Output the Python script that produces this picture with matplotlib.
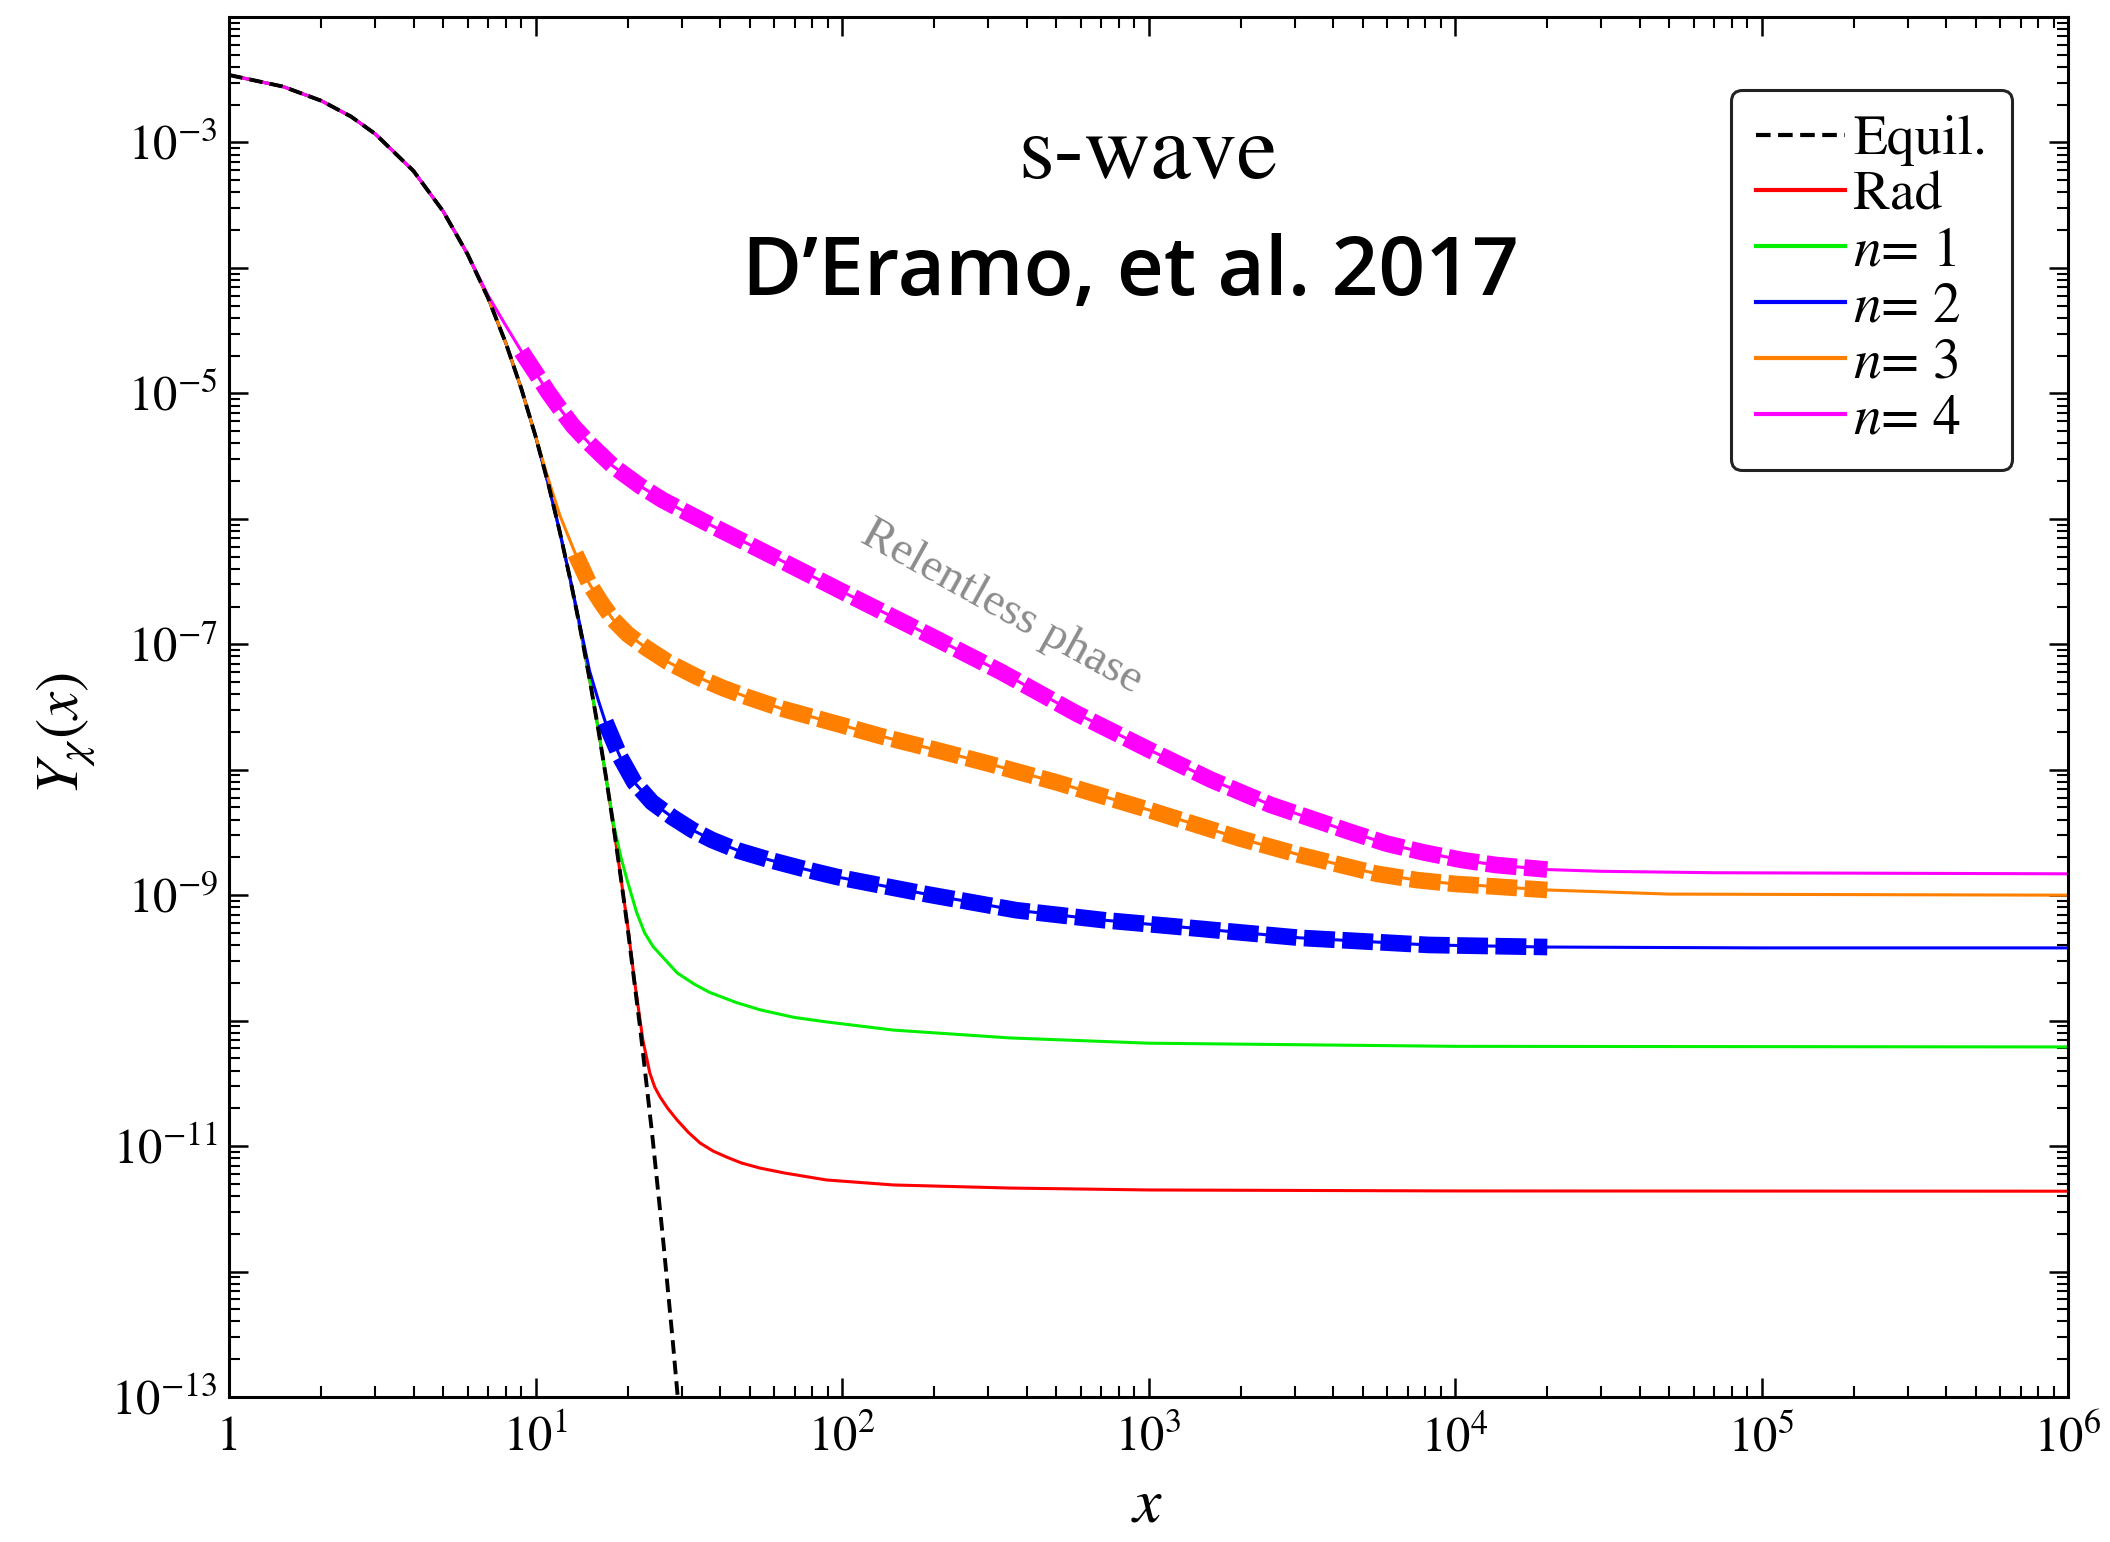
import numpy as np
import matplotlib.pyplot as plt
from matplotlib.ticker import FixedLocator, LogLocator, FuncFormatter, NullFormatter

plt.rcParams['mathtext.fontset'] = 'stix'
plt.rcParams['font.family'] = 'STIXGeneral'

# equilibrium yield
x_eq = [1, 1.5, 2, 2.5, 3, 4, 5, 6, 7, 8, 9, 10, 11, 12, 13, 14, 15, 16, 17, 18, 19, 20,
        22, 24, 26, 28, 30]
y_eq = [3.45e-3, 2.79e-3, 2.15e-3, 1.61e-3, 1.17e-3, 5.92e-4, 2.82e-4, 1.29e-4, 5.77e-5,
        2.52e-5, 1.08e-5, 4.57e-6, 1.91e-6, 7.89e-7, 3.24e-7, 1.32e-7, 5.33e-8, 2.15e-8,
        8.59e-9, 3.43e-9, 1.36e-9, 5.37e-10, 8.32e-11, 1.27e-11, 1.94e-12, 2.91e-13, 4.36e-14]

# radiation domination
x_rad = [1, 1.5, 2, 2.5, 3, 4, 5, 6, 7, 8, 9, 10, 11, 12, 13, 14, 15, 16, 17, 18, 19, 20,
         21, 22.4, 23.6, 24.5, 25.5, 27, 29, 31.5, 34.4, 38, 42, 47, 54, 65, 89, 147, 353,
         1e3, 1e4, 1e6]
y_rad = [3.45e-3, 2.79e-3, 2.15e-3, 1.61e-3, 1.17e-3, 5.92e-4, 2.82e-4, 1.29e-4, 5.77e-5,
         2.52e-5, 1.08e-5, 4.57e-6, 1.91e-6, 7.89e-7, 3.24e-7, 1.32e-7, 5.33e-8, 2.15e-8,
         8.59e-9, 3.43e-9, 1.36e-9, 5.62e-10, 2.14e-10, 7.02e-11, 3.83e-11, 2.95e-11,
         2.46e-11, 2.00e-11, 1.61e-11, 1.29e-11, 1.06e-11, 9.12e-12, 8.18e-12, 7.33e-12,
         6.68e-12, 6.10e-12, 5.37e-12, 4.90e-12, 4.63e-12, 4.47e-12, 4.39e-12, 4.37e-12]

# n = 1
x_n1 = [1, 1.5, 2, 2.5, 3, 4, 5, 6, 7, 8, 9, 10, 11, 12, 13, 14, 15, 16, 17, 18, 19,
        19.9, 21.4, 22.7, 24.2, 26.5, 29, 33, 37, 45, 54, 70, 89, 147, 353, 1e3, 1e4, 1e6]
y_n1 = [3.45e-3, 2.79e-3, 2.15e-3, 1.61e-3, 1.17e-3, 5.92e-4, 2.82e-4, 1.29e-4, 5.77e-5,
        2.52e-5, 1.08e-5, 4.57e-6, 1.91e-6, 7.89e-7, 3.24e-7, 1.32e-7, 5.33e-8, 2.15e-8,
        8.59e-9, 3.63e-9, 2.00e-9, 1.32e-9, 7.24e-10, 5.01e-10, 3.89e-10, 3.05e-10,
        2.40e-10, 1.95e-10, 1.68e-10, 1.40e-10, 1.22e-10, 1.06e-10, 9.77e-11, 8.41e-11,
        7.28e-11, 6.61e-11, 6.24e-11, 6.17e-11]

# n = 2
x_n2 = [1, 1.5, 2, 2.5, 3, 4, 5, 6, 7, 8, 9, 10, 11, 12, 13, 14, 15, 16, 16.9, 18.9, 21,
        24, 28, 32.5, 37.7, 46, 58, 75, 96, 188, 370, 721, 1230, 3120, 8230, 2e4, 1e5, 1e6]
y_n2 = [3.45e-3, 2.79e-3, 2.15e-3, 1.61e-3, 1.17e-3, 5.92e-4, 2.82e-4, 1.29e-4, 5.77e-5,
        2.52e-5, 1.08e-5, 4.57e-6, 1.91e-6, 7.89e-7, 3.24e-7, 1.38e-7, 6.17e-8, 3.63e-8,
        2.40e-8, 1.26e-8, 7.94e-9, 5.50e-9, 4.17e-9, 3.31e-9, 2.75e-9, 2.26e-9, 1.91e-9,
        1.62e-9, 1.40e-9, 1.02e-9, 7.59e-10, 6.31e-10, 5.62e-10, 4.57e-10, 4.01e-10,
        3.86e-10, 3.80e-10, 3.80e-10]

# n = 3
x_n3 = [1, 1.5, 2, 2.5, 3, 4, 5, 6, 7, 8, 9, 10, 11, 12, 13.5, 15, 16.4, 17.9, 20, 23, 27,
        33.6, 41, 49, 63, 80, 105, 133, 200, 300, 500, 1e3, 2e3, 3120, 5560, 7500, 1e4,
        2e4, 5e4, 1e6]
y_n3 = [3.45e-3, 2.79e-3, 2.15e-3, 1.61e-3, 1.17e-3, 5.92e-4, 2.82e-4, 1.29e-4, 5.77e-5,
        2.52e-5, 1.08e-5, 4.57e-6, 2.09e-6, 1.07e-6, 5.25e-7, 3.02e-7, 2.14e-7, 1.58e-7,
        1.20e-7, 9.33e-8, 7.24e-8, 5.50e-8, 4.47e-8, 3.80e-8, 3.09e-8, 2.63e-8, 2.19e-8,
        1.86e-8, 1.45e-8, 1.12e-8, 7.94e-9, 4.79e-9, 2.82e-9, 2.09e-9, 1.48e-9, 1.32e-9,
        1.23e-9, 1.10e-9, 1.02e-9, 1.00e-9]

# n = 4
x_n4 = [1, 1.5, 2, 2.5, 3, 4, 5, 6, 7, 8, 9, 10, 11, 12, 13.25, 15, 17.9, 22, 26, 38, 63,
        104, 194, 330, 580, 1e3, 1600, 2500, 3120, 4610, 6000, 7920, 1.05e4, 1.36e4, 2e4,
        3e4, 7e4, 1e6]
y_n4 = [3.45e-3, 2.79e-3, 2.15e-3, 1.61e-3, 1.17e-3, 5.92e-4, 2.82e-4, 1.29e-4, 6.03e-5,
        3.47e-5, 2.16e-5, 1.46e-5, 1.02e-5, 7.59e-6, 5.50e-6, 3.98e-6, 2.63e-6, 1.82e-6,
        1.41e-6, 8.71e-7, 4.68e-7, 2.51e-7, 1.17e-7, 6.03e-8, 2.82e-8, 1.45e-8, 8.32e-9,
        5.25e-9, 4.37e-9, 3.16e-9, 2.57e-9, 2.19e-9, 1.91e-9, 1.74e-9, 1.60e-9, 1.55e-9,
        1.51e-9, 1.48e-9]

labels = ['Rad', '$n$= 1', '$n$= 2', '$n$= 3', '$n$= 4']
colors = ['#ff0000', '#00f000', '#0000ff', '#ff8000', '#ff00ff']
series = [(x_rad, y_rad), (x_n1, y_n1), (x_n2, y_n2), (x_n3, y_n3), (x_n4, y_n4)]

# stretch of the relentless phase drawn as thick dashes (n = 2, 3, 4)
relentless_from = [16.9, 13.5, 9.0]
relentless_to = 2e4

fig = plt.figure(figsize=(21.1, 15.42), dpi=100)
ax = fig.add_axes([229 / 2110, 145 / 1542, 1839 / 2110, 1380 / 1542])

handles = []
for (xs, ys), c, lab in zip(series, colors, labels):
    h, = ax.plot(xs, ys, color=c, lw=2.2, label=lab, zorder=2)
    handles.append(h)

for (xs, ys), c, x0 in zip(series[2:], colors[2:], relentless_from):
    xs = np.asarray(xs)
    ys = np.asarray(ys)
    m = (xs >= x0) & (xs <= relentless_to)
    ax.plot(xs[m], ys[m], color=c, lw=12, dashes=(1.85, 0.45),
            solid_capstyle='butt', dash_capstyle='butt', zorder=3)

h_eq, = ax.plot(x_eq, y_eq, color='black', lw=2.8, dashes=(3.5, 1.8), label='Equil.', zorder=4)

ax.set_xscale('log')
ax.set_yscale('log')
ax.set_xlim(1, 1e6)
ax.set_ylim(1e-13, 1e-2)

ax.xaxis.set_major_locator(FixedLocator([10.0 ** k for k in range(0, 7)]))
ax.xaxis.set_major_formatter(FuncFormatter(
    lambda v, p: '1' if abs(v - 1) < 1e-9 else '$10^{%d}$' % round(np.log10(v))))
ax.yaxis.set_major_locator(FixedLocator([10.0 ** k for k in range(-13, -1)]))
ax.yaxis.set_major_formatter(FuncFormatter(
    lambda v, p: '$10^{%d}$' % round(np.log10(v)) if round(np.log10(v)) % 2 else ''))
for axis in (ax.xaxis, ax.yaxis):
    axis.set_minor_locator(LogLocator(base=10, subs=np.arange(2, 10), numticks=100))
    axis.set_minor_formatter(NullFormatter())

ax.tick_params(which='both', direction='in', top=True, right=True, labelsize=35)
ax.tick_params(which='major', length=14, width=1.8)
ax.tick_params(which='minor', length=8, width=1.5)
ax.tick_params(axis='x', pad=14)
ax.tick_params(axis='y', pad=8)
for s in ax.spines.values():
    s.set_linewidth(2.2)

fig.text(67 / 2110, 1 - 733 / 1542, r'$Y_{\chi}(x)$', rotation=90,
         ha='center', va='center', fontsize=44)
fig.text(1147 / 2110, 1 - 1506 / 1542, r'$x$', ha='center', va='center', fontsize=46)

fig.text(1148 / 2110, 1 - 157 / 1542, 's-wave', ha='center', va='center', fontsize=66)
fig.text(1130 / 2110, 1 - 274 / 1542, 'D\u2019Eramo, et al. 2017', ha='center', va='center',
         fontsize=59, family='Open Sans', fontweight='semibold')
fig.text(1002 / 2110, 1 - 608 / 1542, 'Relentless phase', ha='center', va='center',
         rotation=-29, rotation_mode='anchor', color='#8c8c8c', fontsize=34,
         family='Liberation Serif')

leg = ax.legend([h_eq] + handles, ['Equil.'] + labels, loc='upper right',
                bbox_to_anchor=((2012 - 229) / 1839, (1397 - 90) / 1380),
                borderaxespad=0, fontsize=40, handlelength=1.6, handletextpad=0.15,
                labelspacing=0.09, borderpad=0.45, fancybox=True, framealpha=1)
leg.get_frame().set_edgecolor('#222222')
leg.get_frame().set_linewidth(2.2)
for line in leg.get_lines():
    line.set_linewidth(3.0)

fig.savefig('out.png', dpi=100)
